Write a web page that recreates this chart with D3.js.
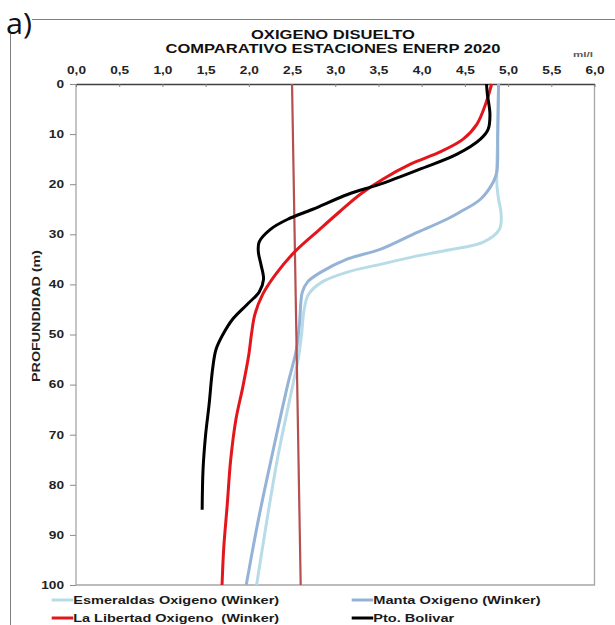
<!DOCTYPE html>
<html>
<head>
<meta charset="utf-8">
<script src="https://cdn.jsdelivr.net/npm/d3@7"></script>
<style>
  html,body{margin:0;padding:0;background:#fff;}
  svg{display:block;}
  text{font-family:"Liberation Sans",Arial,sans-serif;}
</style>
</head>
<body>
<svg id="chart" width="615" height="625"></svg>
<script>
// ---------- data ----------
const titleLines = ["OXIGENO DISUELTO", "COMPARATIVO ESTACIONES ENERP 2020"];
const xTicks = [0, 0.5, 1, 1.5, 2, 2.5, 3, 3.5, 4, 4.5, 5, 5.5, 6];
const yTicks = [0, 10, 20, 30, 40, 50, 60, 70, 80, 90, 100];
const unitLabel = "ml/l";
const yTitle = "PROFUNDIDAD (m)";

const esmDepth = [0, 10, 20, 23, 26, 29, 31.5, 33.2, 34.5, 36, 37.5, 39.5, 42, 45, 50, 55, 60, 74, 87, 100];
const esmValue = [4.89, 4.88, 4.87, 4.89, 4.92, 4.90, 4.72, 4.29, 3.90, 3.52, 3.15, 2.85, 2.69, 2.64, 2.61, 2.57, 2.51, 2.34, 2.21, 2.09];

const mantaDepth = [0, 10, 17.5, 19.5, 23, 25.5, 27, 30, 33, 35, 37.5, 39.5, 41.5, 44, 47, 53, 60, 74, 87, 100];
const mantaValue = [4.89, 4.88, 4.87, 4.83, 4.68, 4.45, 4.29, 3.90, 3.52, 3.13, 2.84, 2.68, 2.62, 2.60, 2.59, 2.55, 2.45, 2.27, 2.11, 1.97];

const libDepth = [0, 4, 8, 11, 13.5, 16, 19, 22, 25.5, 29, 33.5, 38, 42, 46, 50, 54, 60.5, 67, 75, 84, 92.5, 100];
const libValue = [4.81, 4.74, 4.64, 4.48, 4.22, 3.87, 3.55, 3.29, 3.05, 2.82, 2.53, 2.31, 2.16, 2.07, 2.03, 2.00, 1.93, 1.85, 1.79, 1.75, 1.71, 1.69];

const bolDepth = [0, 2, 6, 9, 11, 14, 17, 20, 22, 25, 27, 29, 31.5, 33.5, 36, 39, 41.5, 44, 47, 50, 53, 57, 64, 70, 77, 85];
const bolValue = [4.75, 4.76, 4.79, 4.77, 4.68, 4.41, 3.98, 3.52, 3.15, 2.74, 2.45, 2.25, 2.12, 2.11, 2.14, 2.17, 2.12, 1.98, 1.81, 1.70, 1.62, 1.58, 1.54, 1.50, 1.47, 1.46];

const refDepth = [0, 100];
const refValue = [2.5, 2.6];

const seriesNames = ["Esmeraldas Oxigeno (Winker)", "Manta Oxigeno (Winker)", "La Libertad Oxigeno  (Winker)", "Pto. Bolivar"];
const seriesColors = ["#b7dce8", "#95b3d7", "#e3161c", "#000000"];

// ---------- setup ----------
const svg = d3.select("#chart");
const x = d3.scaleLinear().domain([0, 6]).range([76, 594.5]);
const y = d3.scaleLinear().domain([0, 100]).range([84, 585]);

function stretch(sel, k) {
  sel.each(function () {
    const w = this.getComputedTextLength();
    this.setAttribute("textLength", w * k);
    this.setAttribute("lengthAdjust", "spacingAndGlyphs");
  });
}

// outer frame
svg.append("path").attr("d", "M10.5,625 L10.5,19.5 L615,19.5")
  .attr("fill", "none").attr("stroke", "#7f7f7f").attr("stroke-width", 1);
svg.append("rect").attr("x", 0).attr("y", 4).attr("width", 32).attr("height", 30).attr("fill", "#fff");
svg.append("text").attr("x", 6).attr("y", 34).attr("font-size", 30)
  .style("font-family", "'Open Sans', 'Noto Sans', sans-serif")
  .attr("textLength", 26).attr("lengthAdjust", "spacingAndGlyphs")
  .attr("fill", "#111").text("a)");

// title
svg.append("text").attr("x", 333).attr("y", 38.5).attr("text-anchor", "middle")
  .attr("font-size", 13).attr("font-weight", "bold").attr("fill", "#111")
  .attr("textLength", 164).attr("lengthAdjust", "spacingAndGlyphs").text(titleLines[0]);
svg.append("text").attr("x", 333).attr("y", 53).attr("text-anchor", "middle")
  .attr("font-size", 13).attr("font-weight", "bold").attr("fill", "#111")
  .attr("textLength", 335).attr("lengthAdjust", "spacingAndGlyphs").text(titleLines[1]);

// unit label
svg.append("text").attr("x", 583).attr("y", 57).attr("text-anchor", "middle")
  .attr("font-size", 7.5).attr("font-weight", "bold").attr("fill", "#595959")
  .attr("textLength", 20).attr("lengthAdjust", "spacingAndGlyphs").text(unitLabel);

// plot frame (left, bottom, right in grey)
svg.append("path")
  .attr("d", `M${x(0)},${y(0)} L${x(0)},${y(100)} L${x(6)},${y(100)} L${x(6)},${y(0)}`)
  .attr("fill", "none").attr("stroke", "#a6a6a6").attr("stroke-width", 1.3);

// x axis (top)
const fmt = d3.format(".1f");
const gx = svg.append("g").attr("transform", `translate(0,${y(0)})`)
  .call(d3.axisTop(x).tickValues(xTicks).tickFormat(d => fmt(d).replace(".", ","))
    .tickSizeInner(-3).tickSizeOuter(0).tickPadding(10.5));
gx.select(".domain").attr("stroke", "#404040").attr("stroke-width", 1.3);
gx.selectAll(".tick line").attr("stroke", "#808080");
gx.selectAll(".tick text").attr("font-size", 10.5).attr("font-weight", "bold")
  .attr("fill", "#222").style("font-family", "'Liberation Sans', Arial, sans-serif");
stretch(gx.selectAll(".tick text"), 1.3);

// y axis (left)
const gy = svg.append("g").attr("transform", `translate(${x(0)},0)`)
  .call(d3.axisLeft(y).tickValues(yTicks).tickSizeInner(6).tickSizeOuter(0).tickPadding(6));
gy.select(".domain").remove();
gy.selectAll(".tick line").attr("stroke", "#8c8c8c");
gy.selectAll(".tick text").attr("font-size", 10.5).attr("font-weight", "bold")
  .attr("fill", "#222").style("font-family", "'Liberation Sans', Arial, sans-serif");
stretch(gy.selectAll(".tick text"), 1.3);

// y title
svg.append("text").attr("transform", "translate(39.5,316) rotate(-90)")
  .attr("text-anchor", "middle").attr("font-size", 10.5).attr("font-weight", "bold")
  .attr("fill", "#222").attr("textLength", 132).attr("lengthAdjust", "spacingAndGlyphs")
  .text(yTitle);

// ---------- lines ----------
const line = d3.line().x(d => x(d.v)).y(d => y(d.d)).curve(d3.curveCatmullRom.alpha(0.5));
function pts(depths, values) { return depths.map((d, i) => ({ d: d, v: values[i] })); }

const plot = svg.append("g");
plot.append("path").datum(pts(esmDepth, esmValue)).attr("d", line)
  .attr("fill", "none").attr("stroke", seriesColors[0]).attr("stroke-width", 3);
plot.append("path").datum(pts(mantaDepth, mantaValue)).attr("d", line)
  .attr("fill", "none").attr("stroke", seriesColors[1]).attr("stroke-width", 3);
plot.append("path").datum(pts(refDepth, refValue)).attr("d", line)
  .attr("fill", "none").attr("stroke", "#b4504f").attr("stroke-width", 2.2);
plot.append("path").datum(pts(libDepth, libValue)).attr("d", line)
  .attr("fill", "none").attr("stroke", seriesColors[2]).attr("stroke-width", 3);
plot.append("path").datum(pts(bolDepth, bolValue)).attr("d", line)
  .attr("fill", "none").attr("stroke", seriesColors[3]).attr("stroke-width", 3);

// ---------- legend ----------
const legendPos = [
  { lx: 51.7, ly: 600, w: 206 },
  { lx: 351.7, ly: 600, w: 167.5 },
  { lx: 51.7, ly: 618, w: 206 },
  { lx: 351.7, ly: 618, w: 81 }
];
const lg = svg.append("g");
seriesNames.forEach((name, i) => {
  const p = legendPos[i];
  lg.append("line").attr("x1", p.lx).attr("x2", p.lx + 21.5).attr("y1", p.ly).attr("y2", p.ly)
    .attr("stroke", seriesColors[i]).attr("stroke-width", 3);
  lg.append("text").attr("x", p.lx + 21.5).attr("y", p.ly + 4).attr("font-size", 11.5)
    .attr("font-weight", "bold").attr("fill", "#1a1a1a").style("white-space", "pre")
    .attr("textLength", p.w).attr("lengthAdjust", "spacingAndGlyphs").text(name);
});
</script>
</body>
</html>
